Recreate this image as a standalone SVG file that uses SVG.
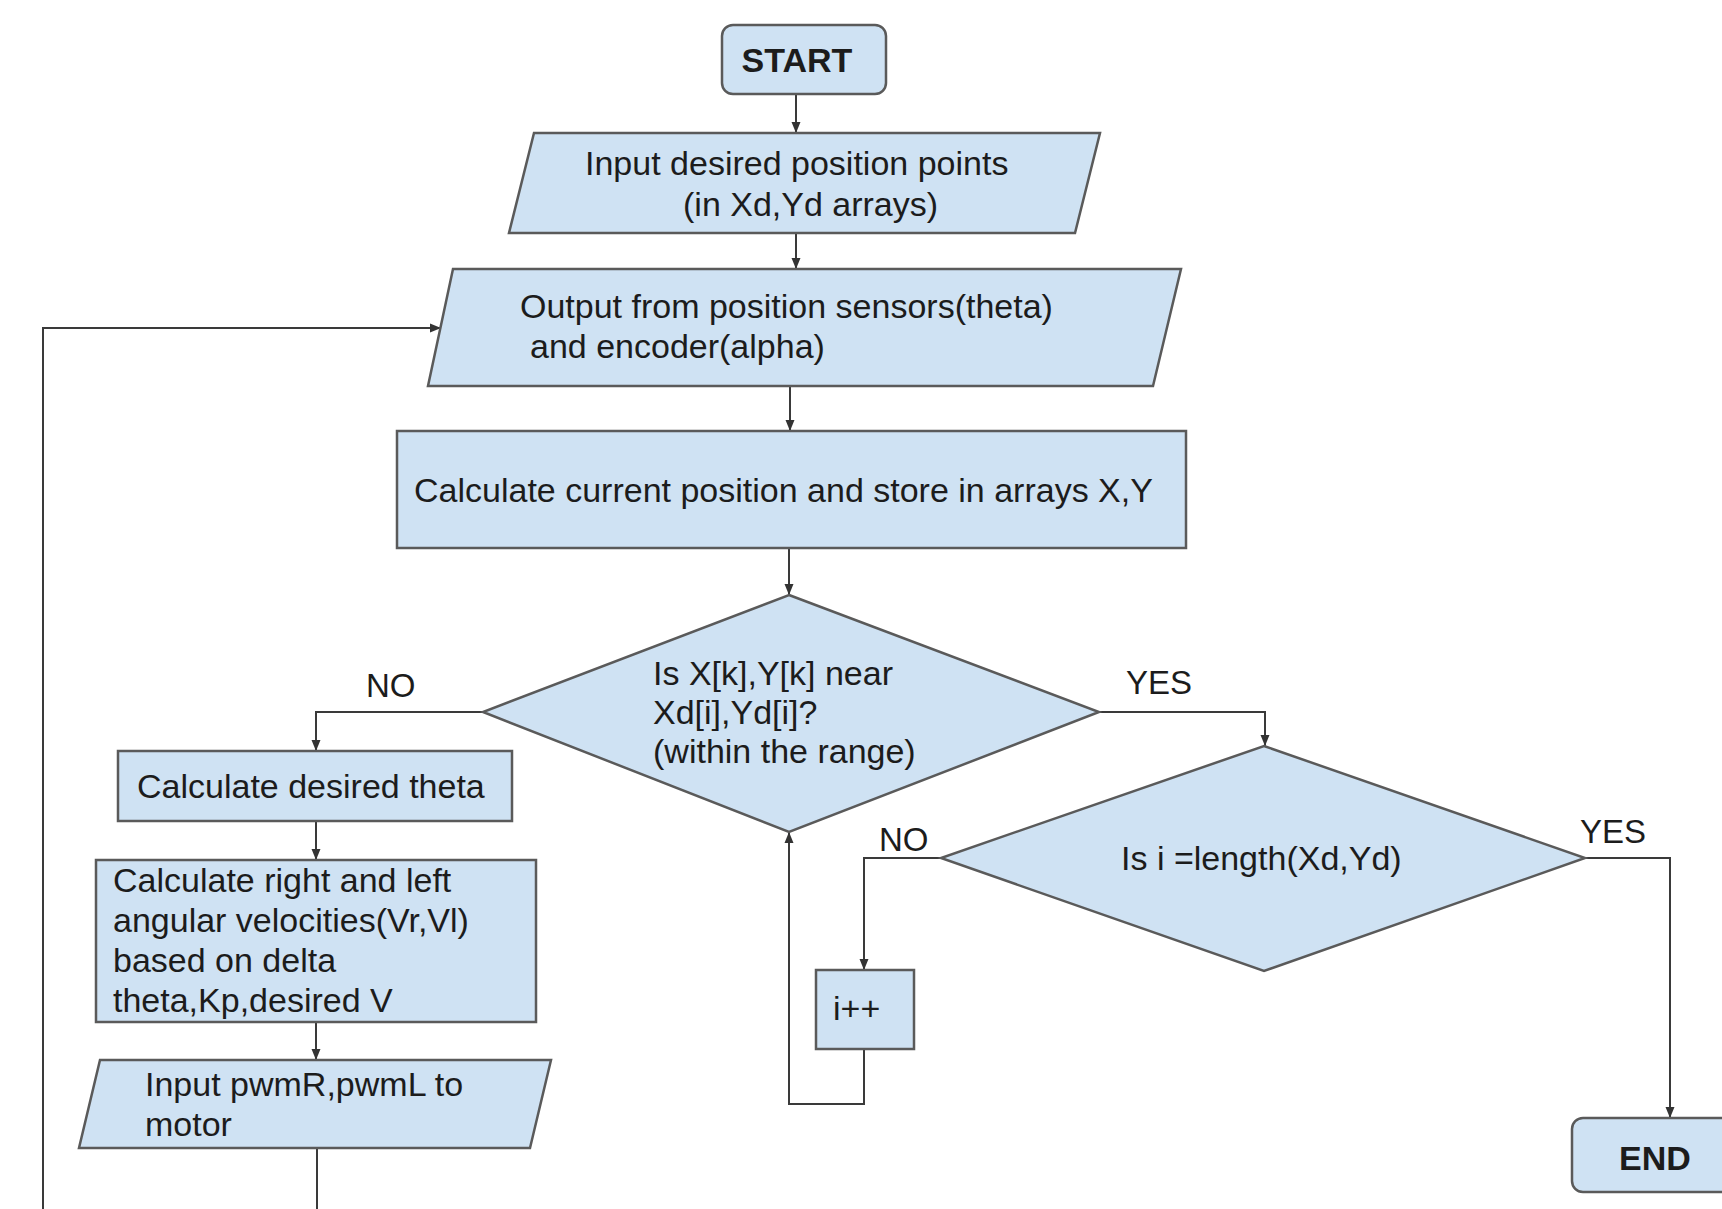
<svg xmlns="http://www.w3.org/2000/svg" width="1722" height="1209" viewBox="0 0 1722 1209">
<defs>
<marker id="arr" markerUnits="userSpaceOnUse" markerWidth="12" markerHeight="10" refX="11" refY="5" orient="auto">
<path d="M0,0.5 L11,5 L0,9.5 Z" fill="#333"/>
</marker>
<style>
.shape{fill:#cfe2f3;stroke:#5a5a5a;stroke-width:2.5}
.t{font-family:"Liberation Sans",Arial,sans-serif;font-size:34px;fill:#1c1c1c}
.b{font-weight:bold}
.lbl{font-family:"Liberation Sans",Arial,sans-serif;font-size:33px;fill:#1c1c1c}
.c{fill:none;stroke:#3a3a3a;stroke-width:2}
</style>
</defs>
<rect width="1722" height="1209" fill="#ffffff"/>
<g id="connectors">
<path class="c" d="M796,94 L796,133" marker-end="url(#arr)"/>
<path class="c" d="M796,233 L796,269" marker-end="url(#arr)"/>
<path class="c" d="M790,386 L790,431" marker-end="url(#arr)"/>
<path class="c" d="M789,548 L789,595" marker-end="url(#arr)"/>
<path class="c" d="M483,712 L316,712 L316,751" marker-end="url(#arr)"/>
<path class="c" d="M316,821 L316,860" marker-end="url(#arr)"/>
<path class="c" d="M316,1022 L316,1060" marker-end="url(#arr)"/>
<path class="c" d="M317,1149 L317,1209"/>
<path class="c" d="M43,1209 L43,328 L441,328" marker-end="url(#arr)"/>
<path class="c" d="M1099,712 L1265,712 L1265,746" marker-end="url(#arr)"/>
<path class="c" d="M941,858 L864,858 L864,970" marker-end="url(#arr)"/>
<path class="c" d="M864,1049 L864,1104 L789,1104 L789,832" marker-end="url(#arr)"/>
<path class="c" d="M1585,858 L1670,858 L1670,1118" marker-end="url(#arr)"/>
</g>
<g id="start">
<rect class="shape" x="722" y="25" width="164" height="69" rx="11"/>
<text class="t b" x="797" y="72" text-anchor="middle">START</text>
</g>
<g id="input-points">
<polygon class="shape" points="534,133 1100,133 1075,233 509,233"/>
<text class="t" x="585" y="175">Input desired position points</text>
<text class="t" x="683" y="216">(in Xd,Yd arrays)</text>
</g>
<g id="sensor-output">
<polygon class="shape" points="453,269 1181,269 1153,386 428,386"/>
<text class="t" x="520" y="318">Output from position sensors(theta)</text>
<text class="t" x="530" y="358">and encoder(alpha)</text>
</g>
<g id="calc-position">
<rect class="shape" x="397" y="431" width="789" height="117"/>
<text class="t" x="414" y="502">Calculate current position and store in arrays X,Y</text>
</g>
<g id="near-check">
<polygon class="shape" points="789,595 1099,712 789,832 483,712"/>
<text class="t" x="653" y="685">Is X[k],Y[k] near</text>
<text class="t" x="653" y="724">Xd[i],Yd[i]?</text>
<text class="t" x="653" y="763">(within the range)</text>
</g>
<g id="label-no-1"><text class="lbl" x="366" y="697">NO</text></g>
<g id="label-yes-1"><text class="lbl" x="1126" y="694">YES</text></g>
<g id="desired-theta">
<rect class="shape" x="118" y="751" width="394" height="70"/>
<text class="t" x="137" y="798">Calculate desired theta</text>
</g>
<g id="velocities">
<rect class="shape" x="96" y="860" width="440" height="162"/>
<text class="t" x="113" y="892">Calculate right and left</text>
<text class="t" x="113" y="932">angular velocities(Vr,Vl)</text>
<text class="t" x="113" y="972">based on delta</text>
<text class="t" x="113" y="1012">theta,Kp,desired V</text>
</g>
<g id="pwm-input">
<polygon class="shape" points="100,1060 551,1060 530,1148 79,1148"/>
<text class="t" x="145" y="1096">Input pwmR,pwmL to</text>
<text class="t" x="145" y="1136">motor</text>
</g>
<g id="length-check">
<polygon class="shape" points="1264,746 1585,858 1264,971 941,858"/>
<text class="t" x="1121" y="870">Is i =length(Xd,Yd)</text>
</g>
<g id="label-no-2"><text class="lbl" x="879" y="851">NO</text></g>
<g id="label-yes-2"><text class="lbl" x="1580" y="843">YES</text></g>
<g id="increment">
<rect class="shape" x="816" y="970" width="98" height="79"/>
<text class="t" x="833" y="1020">i++</text>
</g>
<g id="end">
<rect class="shape" x="1572" y="1118" width="196" height="74" rx="11"/>
<text class="t b" x="1619" y="1170">END</text>
</g>
</svg>
